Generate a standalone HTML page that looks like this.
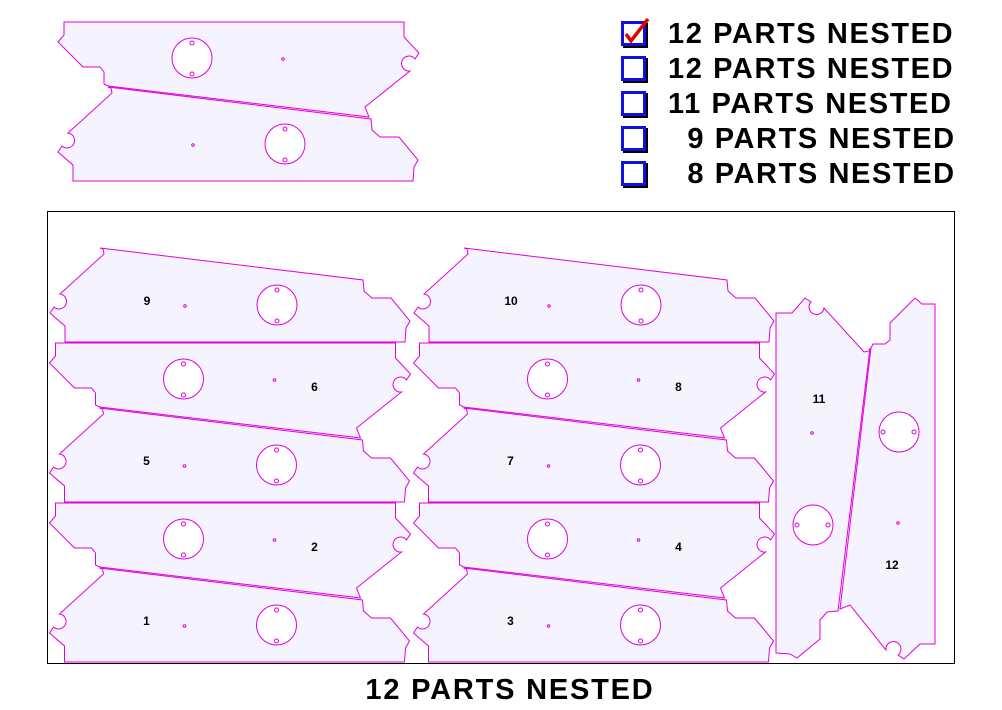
<!DOCTYPE html>
<html><head><style>
html,body{margin:0;padding:0;background:#fff;}
body{width:1002px;height:710px;overflow:hidden;position:relative;font-family:"Liberation Sans",Arial,sans-serif;}
.lbl{position:absolute;left:668px;font-weight:bold;font-size:29px;line-height:29px;color:#000;white-space:pre;letter-spacing:1.6px;}
.cb{position:absolute;left:621px;width:19px;height:19px;border:3px solid #1010e0;box-shadow:2px 2px 0 #000;background:#fff;}
</style></head><body>
<svg width="1002" height="710" style="position:absolute;left:0;top:0" xmlns="http://www.w3.org/2000/svg">
<defs>
<g id="U">
<path d="M64,22 L404,22 L404,37 L419,53 L415,59 A7.5,7.5 0 1 0 410,71 L365,107 L369,117 L108,86 L104,84 L104,72 L100,67 L83,67 L58,42 L64,35 Z" fill="#f5f3fe" stroke="#e000e0" stroke-width="1"/>
<circle cx="192" cy="58" r="20" fill="#fff" stroke="#e000e0"/>
<circle cx="192" cy="43" r="2" fill="none" stroke="#e000e0"/>
<circle cx="192" cy="74" r="2" fill="none" stroke="#e000e0"/>
<circle cx="283" cy="59" r="1.3" fill="none" stroke="#e000e0"/>
</g>
<g id="L">
<path d="M108,87 L371,119 L372,130 L380,137 L399,137 L418,160 L414,167 L413,181 L73,181 L73,165 L58,152 L62,146 A7.5,7.5 0 1 0 68,133 L112,93 L111,88 Z" fill="#f5f3fe" stroke="#e000e0" stroke-width="1"/>
<circle cx="285" cy="144" r="20" fill="#fff" stroke="#e000e0"/>
<circle cx="285" cy="129" r="2" fill="none" stroke="#e000e0"/>
<circle cx="285" cy="160" r="2" fill="none" stroke="#e000e0"/>
<circle cx="193" cy="145" r="1.3" fill="none" stroke="#e000e0"/>
</g>
</defs>
<use href="#U"/><use href="#L"/>
<rect x="47.5" y="211.5" width="907" height="452" fill="none" stroke="#000" stroke-width="1"/>
<g font-family="Liberation Sans, Arial, sans-serif" font-weight="bold" font-size="12" fill="#000" text-anchor="middle">
<g transform="translate(-8,161)"><use href="#L"/><text x="155" y="144">9</text></g>
<g transform="translate(-8.5,321)"><use href="#U"/><use href="#L"/><text x="323" y="70">6</text><text x="155" y="144">5</text></g>
<g transform="translate(-8.5,481)"><use href="#U"/><use href="#L"/><text x="323" y="70">2</text><text x="155" y="144">1</text></g>
<g transform="translate(356,161)"><use href="#L"/><text x="155" y="144">10</text></g>
<g transform="translate(355.5,321)"><use href="#U"/><use href="#L"/><text x="323" y="70">8</text><text x="155" y="144">7</text></g>
<g transform="translate(355.5,481)"><use href="#U"/><use href="#L"/><text x="323" y="70">4</text><text x="155" y="144">3</text></g>
<g transform="translate(957,240) rotate(90)"><use href="#U"/><use href="#L"/></g>
<text x="819" y="403">11</text>
<text x="892" y="569">12</text>
</g>
<text x="510" y="699" text-anchor="middle" font-family="Liberation Sans, Arial, sans-serif" font-weight="bold" font-size="29" letter-spacing="1.8" fill="#000">12 PARTS NESTED</text>
</svg>
<div class="cb" style="top:21px"></div>
<div class="cb" style="top:56px"></div>
<div class="cb" style="top:91px"></div>
<div class="cb" style="top:126px"></div>
<div class="cb" style="top:161px"></div>
<svg width="40" height="40" style="position:absolute;left:618px;top:12px" xmlns="http://www.w3.org/2000/svg"><path d="M8,22 L13,29 L30,7" fill="none" stroke="#e00000" stroke-width="3.5"/></svg>
<div class="lbl" style="top:20px">12 PARTS NESTED</div>
<div class="lbl" style="top:55px">12 PARTS NESTED</div>
<div class="lbl" style="top:90px">11 PARTS NESTED</div>
<div class="lbl" style="top:125px">  9 PARTS NESTED</div>
<div class="lbl" style="top:160px">  8 PARTS NESTED</div>
</body></html>
